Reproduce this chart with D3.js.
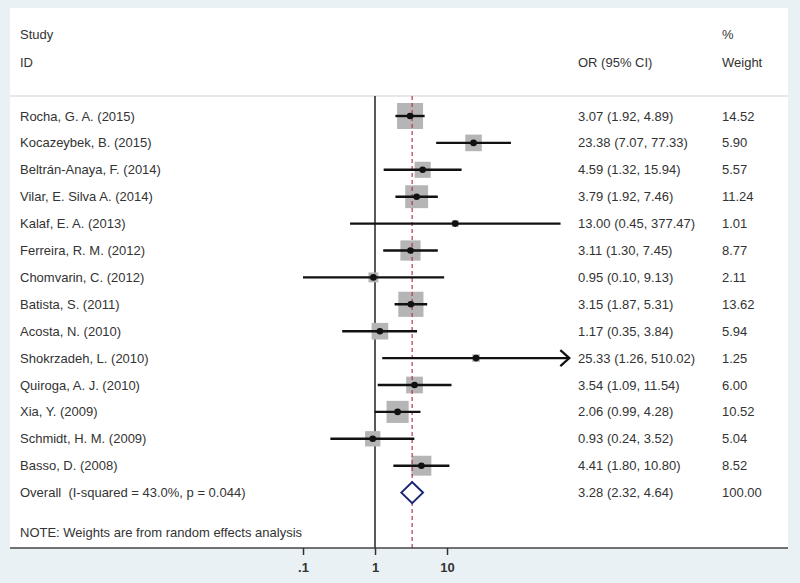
<!DOCTYPE html>
<html><head><meta charset="utf-8">
<script src="https://cdn.jsdelivr.net/npm/d3@7"></script>
<style>
html,body{margin:0;padding:0;background:#e9f1f4;}
svg{display:block;}
text{font-family:"Liberation Sans",Arial,sans-serif;font-size:13px;fill:#333;white-space:pre;}
</style></head>
<body>
<script>
const studies = ["Rocha, G. A. (2015)","Kocazeybek, B. (2015)","Beltrán-Anaya, F. (2014)","Vilar, E. Silva A. (2014)","Kalaf, E. A. (2013)","Ferreira, R. M. (2012)","Chomvarin, C. (2012)","Batista, S. (2011)","Acosta, N. (2010)","Shokrzadeh, L. (2010)","Quiroga, A. J. (2010)","Xia, Y. (2009)","Schmidt, H. M. (2009)","Basso, D. (2008)"];
const or    = [3.07,23.38,4.59,3.79,13.00,3.11,0.95,3.15,1.17,25.33,3.54,2.06,0.93,4.41];
const lower = [1.92,7.07,1.32,1.92,0.45,1.30,0.10,1.87,0.35,1.26,1.09,0.99,0.24,1.80];
const upper = [4.89,77.33,15.94,7.46,377.47,7.45,9.13,5.31,3.84,510.02,11.54,4.28,3.52,10.80];
const weight= ["14.52","5.90","5.57","11.24","1.01","8.77","2.11","13.62","5.94","1.25","6.00","10.52","5.04","8.52"];
const overall = {label:"Overall  (I-squared = 43.0%, p = 0.044)", or:3.28, lower:2.32, upper:4.64, weight:"100.00"};
const tickVals = [0.1,1,10];
const tickLabels = [".1","1","10"];
const axisMax = 500;
const note = "NOTE: Weights are from random effects analysis";

const W=800,H=583;
const svg=d3.select("body").append("svg").attr("width",W).attr("height",H);
// panel
svg.append("rect").attr("x",10).attr("y",8).attr("width",778).attr("height",540).attr("fill","#fff");

const x=d3.scaleLog().domain([0.1,10]).range([303,447]);
const y=d3.scaleLinear().domain([0,1]).range([116,142.9]);
const fmt=d3.format(".2f");

// header
svg.append("text").attr("x",20).attr("y",38.5).text("Study");
svg.append("text").attr("x",20).attr("y",66.5).text("ID");
svg.append("text").attr("x",722).attr("y",38.5).text("%");
svg.append("text").attr("x",578).attr("y",66.5).text("OR (95% CI)");
svg.append("text").attr("x",722).attr("y",66.5).text("Weight");
svg.append("line").attr("x1",10).attr("x2",788).attr("y1",96).attr("y2",96).attr("stroke","#d0d0d0").attr("stroke-width",1.2);

// null line
svg.append("line").attr("x1",x(1)).attr("x2",x(1)).attr("y1",96).attr("y2",548).attr("stroke","#222").attr("stroke-width",1.5);

const rows=studies.map((s,i)=>({s,or:or[i],lo:lower[i],hi:upper[i],w:weight[i],i}));

// squares
svg.selectAll("rect.sq").data(rows).enter().append("rect").attr("class","sq")
  .attr("x",d=>x(d.or)-6.82*Math.sqrt(+d.w)/2).attr("y",d=>y(d.i)-6.82*Math.sqrt(+d.w)/2)
  .attr("width",d=>6.82*Math.sqrt(+d.w)).attr("height",d=>6.82*Math.sqrt(+d.w))
  .attr("fill","#b5b5b5");

// dashed overall line
svg.append("line").attr("x1",x(overall.or)).attr("x2",x(overall.or)).attr("y1",96).attr("y2",548)
  .attr("stroke","#b23a4a").attr("stroke-width",1.2).attr("stroke-dasharray","4,3");

// CI lines
svg.selectAll("line.ci").data(rows).enter().append("line").attr("class","ci")
  .attr("x1",d=>x(d.lo)).attr("x2",d=>x(Math.min(d.hi,axisMax)))
  .attr("y1",d=>y(d.i)).attr("y2",d=>y(d.i)).attr("stroke","#111").attr("stroke-width",2.4);
// arrows
rows.filter(d=>d.hi>axisMax).forEach(d=>{
  const tx=x(axisMax), ty=y(d.i);
  svg.append("path").attr("d",`M${tx-9},${ty-8}L${tx},${ty}L${tx-9},${ty+8}`)
    .attr("fill","none").attr("stroke","#111").attr("stroke-width",2.2);
});
// dots
svg.selectAll("circle.pt").data(rows).enter().append("circle").attr("class","pt")
  .attr("cx",d=>x(d.or)).attr("cy",d=>y(d.i)).attr("r",3.3).attr("fill","#111");

// labels
const tb=4.5;
svg.selectAll("text.st").data(rows).enter().append("text").attr("class","st")
  .attr("x",20).attr("y",d=>y(d.i)+tb).text(d=>d.s);
svg.selectAll("text.ci").data(rows).enter().append("text").attr("class","ci")
  .attr("x",578).attr("y",d=>y(d.i)+tb).text(d=>`${fmt(d.or)} (${fmt(d.lo)}, ${fmt(d.hi)})`);
svg.selectAll("text.wt").data(rows).enter().append("text").attr("class","wt")
  .attr("x",722).attr("y",d=>y(d.i)+tb).text(d=>d.w);

// overall
const oy=y(14);
svg.append("path").attr("d",`M${x(overall.lower)},${oy}L${x(overall.or)},${oy-10.5}L${x(overall.upper)},${oy}L${x(overall.or)},${oy+10.5}Z`)
  .attr("fill","#fff").attr("stroke","#1b2470").attr("stroke-width",2);
svg.append("text").attr("x",20).attr("y",oy+tb).attr("xml:space","preserve").text(overall.label);
svg.append("text").attr("x",578).attr("y",oy+tb).text(`${fmt(overall.or)} (${fmt(overall.lower)}, ${fmt(overall.upper)})`);
svg.append("text").attr("x",722).attr("y",oy+tb).text(overall.weight);

svg.append("text").attr("x",20).attr("y",y(15.5)+tb).text(note);

// axis
svg.append("line").attr("x1",10).attr("x2",788).attr("y1",548).attr("y2",548).attr("stroke","#444").attr("stroke-width",1.6);
const ax=svg.append("g").attr("transform","translate(0,548)")
  .call(d3.axisBottom(x).tickValues(tickVals).tickFormat((d,i)=>tickLabels[i]).tickSize(7).tickPadding(8));
ax.select(".domain").remove();
ax.selectAll(".tick line").attr("stroke","#333").attr("stroke-width",1.5);
ax.selectAll(".tick text").style("font-family","Liberation Sans, Arial, sans-serif").style("font-size","13px").attr("fill","#222").style("font-weight","bold");
</script>
</body></html>
